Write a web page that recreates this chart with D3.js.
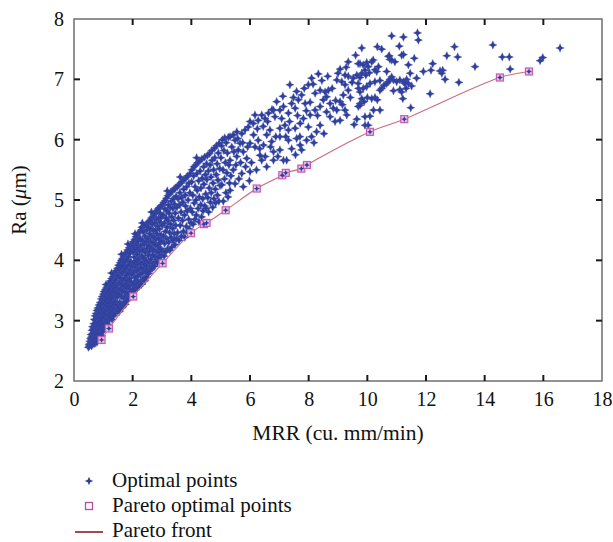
<!DOCTYPE html>
<html><head><meta charset="utf-8">
<script src="https://cdn.jsdelivr.net/npm/d3@7"></script>
<style>body{margin:0;background:#fff}svg{display:block}</style>
</head><body>
<svg id="c" width="613" height="542"></svg>
<script>
// ---------- data ----------
const xTicks = [0, 2, 4, 6, 8, 10, 12, 14, 16, 18];
const yTicks = [2, 3, 4, 5, 6, 7, 8];
const xTitle = "MRR (cu. mm/min)";
const legendLabels = ["Optimal points", "Pareto optimal points", "Pareto front"];

const paretoPoints = [
  [0.94,2.68],[1.19,2.87],[2.02,3.40],[3.02,3.95],[3.99,4.45],[4.43,4.60],[4.52,4.62],
  [5.17,4.83],[6.23,5.19],[7.10,5.41],[7.22,5.45],[7.75,5.52],[7.94,5.58],[10.09,6.13],
  [11.26,6.34],[14.52,7.03],[15.51,7.13]
];

const optimalPoints = [
  // x 0.5 - 1.0
  [0.49,2.56],[0.51,2.61],[0.52,2.58],[0.54,2.66],[0.55,2.60],[0.56,2.71],[0.57,2.63],[0.58,2.77],[0.59,2.69],[0.60,2.58],
  [0.61,2.84],[0.61,2.74],[0.62,2.65],[0.63,2.90],[0.64,2.79],[0.64,2.61],[0.65,2.70],[0.66,2.86],[0.67,2.95],[0.67,2.66],
  [0.68,2.78],[0.69,3.02],[0.70,2.88],[0.70,2.72],[0.71,2.62],[0.72,3.08],[0.72,2.95],[0.73,2.83],[0.74,2.69],[0.75,3.12],
  [0.75,3.00],[0.76,2.77],[0.77,2.90],[0.78,3.17],[0.78,2.64],[0.79,3.05],[0.80,2.84],[0.80,2.72],[0.81,3.21],[0.82,2.97],
  [0.83,3.11],[0.83,2.79],[0.84,2.68],[0.85,3.26],[0.85,2.91],[0.86,3.04],[0.87,3.18],[0.87,2.74],[0.88,2.86],[0.89,3.30],
  [0.89,2.99],[0.90,3.12],[0.91,2.80],[0.91,3.23],[0.92,2.93],[0.93,3.36],[0.93,3.05],[0.94,2.76],[0.95,3.17],[0.96,2.88],
  [0.96,3.40],[0.97,3.00],[0.98,3.28],[0.98,2.82],[0.99,3.11],[1.00,3.44],[1.00,2.95],
  // x 1.0 - 1.5
  [1.01,3.20],[1.02,2.86],[1.02,3.48],[1.03,3.06],[1.04,3.33],[1.05,2.90],[1.05,3.14],[1.06,3.51],[1.07,3.25],[1.08,2.97],
  [1.08,3.40],[1.09,3.10],[1.10,2.88],[1.10,3.54],[1.11,3.31],[1.12,3.18],[1.13,3.02],[1.13,3.45],[1.14,3.57],[1.15,2.94],
  [1.15,3.24],[1.16,3.37],[1.17,3.08],[1.18,3.60],[1.18,3.49],[1.19,3.15],[1.20,3.29],[1.21,3.01],[1.21,3.63],[1.22,3.41],
  [1.23,3.20],[1.24,3.53],[1.24,3.07],[1.25,3.66],[1.26,3.33],[1.27,3.12],[1.27,3.45],[1.28,3.70],[1.29,3.25],[1.30,3.02],
  [1.30,3.58],[1.31,3.38],[1.32,3.16],[1.33,3.73],[1.33,3.49],[1.34,3.28],[1.35,3.08],[1.36,3.62],[1.36,3.77],[1.37,3.40],
  [1.38,3.20],[1.39,3.54],[1.40,3.80],[1.40,3.12],[1.41,3.32],[1.42,3.67],[1.43,3.46],[1.44,3.17],[1.44,3.83],[1.45,3.58],
  [1.46,3.26],[1.47,3.72],[1.48,3.39],[1.48,3.87],[1.49,3.16],[1.50,3.52],[1.28,3.79],[1.09,3.60],
  // x 1.5 - 2.0
  [1.51,3.75],[1.52,3.22],[1.52,3.92],[1.53,3.44],[1.54,3.63],[1.55,3.15],[1.55,3.84],[1.56,3.30],[1.57,3.96],[1.58,3.53],
  [1.58,3.71],[1.59,3.20],[1.60,3.88],[1.61,3.40],[1.61,4.00],[1.62,3.60],[1.63,3.27],[1.64,3.79],[1.64,3.49],[1.65,4.03],
  [1.66,3.67],[1.67,3.23],[1.67,3.92],[1.68,3.38],[1.69,3.57],[1.70,4.06],[1.70,3.82],[1.71,3.30],[1.72,3.70],[1.73,3.47],
  [1.73,3.97],[1.74,4.10],[1.75,3.27],[1.76,3.61],[1.76,3.86],[1.77,3.40],[1.78,4.13],[1.79,3.75],[1.79,3.54],[1.80,3.33],
  [1.81,4.01],[1.82,3.66],[1.82,3.90],[1.83,4.17],[1.84,3.45],[1.85,3.79],[1.85,3.36],[1.86,4.06],[1.87,3.58],[1.88,4.21],
  [1.88,3.93],[1.89,3.41],[1.90,3.70],[1.91,4.12],[1.91,3.52],[1.92,3.84],[1.93,4.25],[1.94,3.40],[1.94,3.98],[1.95,3.64],
  [1.96,4.17],[1.97,3.77],[1.97,3.48],[1.98,4.28],[1.99,3.90],[2.00,3.58],[1.62,4.10],[1.84,4.27],
  // x 2.0 - 2.5
  [2.01,4.14],[2.02,3.52],[2.02,4.31],[2.03,3.80],[2.04,3.96],[2.05,3.62],[2.05,4.22],[2.06,4.05],[2.07,3.50],[2.07,4.35],
  [2.08,3.72],[2.09,3.88],[2.10,4.18],[2.10,3.58],[2.11,4.39],[2.12,3.99],[2.13,3.67],[2.13,4.27],[2.14,3.83],[2.15,4.10],
  [2.16,3.55],[2.16,4.42],[2.17,3.93],[2.18,3.74],[2.19,4.21],[2.19,4.32],[2.20,3.62],[2.21,4.02],[2.22,3.85],[2.22,4.46],
  [2.23,3.57],[2.24,4.15],[2.25,3.77],[2.25,4.36],[2.26,3.95],[2.27,3.66],[2.28,4.25],[2.28,4.50],[2.29,3.88],[2.30,3.60],
  [2.31,4.07],[2.31,4.55],[2.32,3.79],[2.33,4.33],[2.34,3.97],[2.35,3.67],[2.35,4.18],[2.36,4.47],[2.37,3.86],[2.38,4.04],
  [2.39,3.71],[2.39,4.57],[2.40,4.27],[2.41,3.93],[2.42,3.66],[2.42,4.40],[2.43,4.13],[2.44,3.81],[2.45,4.59],[2.46,3.99],
  [2.46,4.30],[2.47,3.72],[2.48,4.50],[2.49,4.20],[2.49,3.90],[2.50,4.62],[2.08,4.44],[2.33,4.62],
  // x 2.5 - 3.0
  [2.51,3.84],[2.52,4.36],[2.53,4.08],[2.53,4.55],[2.54,3.78],[2.55,4.24],[2.56,4.64],[2.57,3.96],[2.58,4.44],[2.58,4.15],
  [2.59,3.83],[2.60,4.66],[2.61,4.31],[2.62,4.02],[2.62,4.52],[2.63,3.89],[2.64,4.70],[2.65,4.20],[2.66,4.40],[2.66,3.86],
  [2.67,4.60],[2.68,4.09],[2.69,4.73],[2.70,4.29],[2.70,3.95],[2.71,4.49],[2.72,4.17],[2.73,4.76],[2.74,3.90],[2.74,4.38],
  [2.75,4.62],[2.76,4.06],[2.77,4.26],[2.78,4.79],[2.78,4.50],[2.79,3.98],[2.80,4.35],[2.81,4.68],[2.82,4.14],[2.82,4.82],
  [2.83,4.44],[2.84,3.96],[2.85,4.57],[2.86,4.23],[2.86,4.85],[2.87,4.05],[2.88,4.70],[2.89,4.36],[2.90,4.13],[2.90,4.87],
  [2.91,4.52],[2.92,4.01],[2.93,4.29],[2.94,4.78],[2.94,4.63],[2.95,4.19],[2.96,4.90],[2.97,4.42],[2.98,4.08],[2.98,4.71],
  [2.99,4.32],[2.64,4.80],
  // x 3.0 - 3.5
  [3.01,4.58],[3.02,4.92],[3.03,4.16],[3.04,4.75],[3.05,4.40],[3.06,4.96],[3.07,4.07],[3.08,4.62],[3.09,4.28],[3.10,4.85],
  [3.11,4.99],[3.12,4.48],[3.13,4.14],[3.14,4.70],[3.15,5.03],[3.16,4.36],[3.17,4.82],[3.18,4.55],[3.19,4.19],[3.20,5.07],
  [3.21,4.66],[3.22,4.92],[3.23,4.30],[3.24,4.78],[3.25,5.10],[3.26,4.46],[3.27,4.17],[3.28,4.88],[3.29,4.60],[3.30,5.13],
  [3.31,4.38],[3.32,4.98],[3.33,4.72],[3.34,4.22],[3.35,5.15],[3.36,4.53],[3.37,4.86],[3.38,4.33],[3.39,5.02],[3.40,4.66],
  [3.41,5.18],[3.42,4.44],[3.43,4.93],[3.44,4.26],[3.45,4.78],[3.46,5.20],[3.47,4.58],[3.48,5.06],[3.49,4.36],[3.18,5.15],
  // x 3.5 - 4.0
  [3.51,4.88],[3.52,5.22],[3.53,4.46],[3.55,5.02],[3.56,4.70],[3.57,5.25],[3.58,4.33],[3.60,4.92],[3.61,5.12],[3.62,4.58],
  [3.64,5.28],[3.65,4.80],[3.66,4.40],[3.67,5.04],[3.69,5.31],[3.70,4.66],[3.71,4.96],[3.73,4.48],[3.74,5.18],[3.75,5.34],
  [3.77,4.75],[3.78,4.38],[3.79,5.08],[3.80,4.90],[3.82,5.37],[3.83,4.56],[3.84,5.22],[3.86,4.82],[3.87,4.46],[3.88,5.40],
  [3.89,5.00],[3.91,4.68],[3.92,5.28],[3.93,4.52],[3.95,5.12],[3.96,5.44],[3.97,4.86],[3.99,4.62],[3.62,5.38],
  // x 4.0 - 4.5
  [4.01,5.30],[4.02,5.50],[4.03,4.80],[4.05,5.08],[4.06,4.60],[4.08,5.40],[4.09,5.55],[4.10,4.95],[4.12,4.68],[4.13,5.22],
  [4.15,5.58],[4.16,5.00],[4.17,4.75],[4.19,5.44],[4.20,5.16],[4.22,5.62],[4.23,4.86],[4.25,5.32],[4.26,4.64],[4.27,5.05],
  [4.29,5.65],[4.30,5.48],[4.32,4.92],[4.33,5.20],[4.35,4.72],[4.36,5.68],[4.37,5.36],[4.39,5.02],[4.40,4.82],[4.42,5.55],
  [4.43,5.26],[4.45,5.71],[4.46,4.90],[4.48,5.42],[4.49,5.10],[4.18,5.70],
  // x 4.5 - 5.0
  [4.51,4.86],[4.52,5.60],[4.53,5.34],[4.55,5.74],[4.56,5.04],[4.58,5.48],[4.59,4.80],[4.61,5.20],[4.62,5.77],[4.64,5.58],
  [4.65,4.96],[4.67,5.38],[4.68,5.12],[4.70,5.82],[4.71,5.66],[4.73,4.88],[4.74,5.28],[4.76,5.50],[4.77,5.02],[4.79,5.86],
  [4.80,5.70],[4.82,5.18],[4.83,4.95],[4.85,5.42],[4.86,5.90],[4.88,5.60],[4.89,5.08],[4.91,5.33],[4.92,5.78],[4.94,4.98],
  [4.95,5.94],[4.97,5.52],[4.98,5.24],
  // x 5.0 - 5.3
  [5.01,5.70],[5.03,5.90],[5.04,5.25],[5.06,6.00],[5.08,5.50],[5.09,4.98],[5.11,5.82],[5.13,5.35],[5.14,6.03],[5.16,5.62],
  [5.18,5.12],[5.19,5.95],[5.21,5.45],[5.23,5.78],[5.25,5.05],[5.26,6.04],[5.28,5.58],[5.30,5.28],
  // x 5.3 - 9.75
  [9.35,7.29],[9.69,7.26],[9.64,7.07],[9.52,7.02],[9.35,7.05],[9.24,7.07],[9.07,7.17],[8.96,6.99],[9.13,6.96],[9.24,6.91],
  [9.35,6.82],[9.69,6.93],[9.69,6.55],[9.64,6.34],[9.75,6.60],[8.33,7.09],[8.10,7.02],[7.99,6.91],[8.22,6.77],[8.39,6.82],
  [8.56,6.79],[8.61,6.71],[8.67,6.82],[8.50,6.66],[8.73,6.60],[8.84,6.52],[8.96,6.49],[9.07,6.63],[9.18,6.74],[9.24,6.49],
  [9.30,6.41],[9.07,6.32],[8.90,6.30],[8.73,6.38],[8.61,6.46],[8.39,6.55],[8.22,6.49],[8.05,6.41],[7.88,6.60],[7.76,6.74],
  [7.59,6.80],[7.65,6.66],[7.54,6.52],[7.36,6.91],[7.42,6.60],[7.31,6.44],[7.14,6.55],[7.02,6.49],[6.85,6.38],[6.80,6.49],
  [6.91,6.63],[6.63,6.44],[6.51,6.35],[6.40,6.41],[6.28,6.32],[6.17,6.41],[6.11,6.27],[6.00,6.30],[5.94,6.21],[5.83,6.16],
  [5.72,6.10],[5.55,6.13],[5.43,6.08],[5.32,6.05],[5.49,5.99],[5.66,5.94],[5.38,5.88],[5.60,5.83],[5.77,5.80],[6.00,5.94],
  [6.28,5.99],[6.57,6.08],[6.68,6.16],[7.02,6.19],[7.19,6.24],[7.31,6.16],[7.54,6.19],[7.71,6.27],[7.82,6.35],[7.99,6.21],
  [8.27,6.13],[8.10,6.05],[8.39,6.24],[7.59,6.02],[7.31,5.99],[7.02,6.05],[6.74,5.97],[6.46,5.91],[6.17,5.88],[6.34,5.74],
  [6.80,5.80],[7.02,5.83],[7.42,5.85],[7.71,5.91],[7.76,5.83],[7.93,5.99],[7.14,5.66],[7.25,5.66],[6.80,5.66],[6.57,5.55],
  [6.40,5.66],[5.89,5.69],[5.55,5.72],[5.32,5.66],[5.43,5.50],[5.72,5.44],[6.00,5.47],[5.49,5.27],[5.77,5.22],[5.32,5.16],
  [5.35,5.40],[5.45,5.80],[5.52,5.58],[5.58,6.02],[5.62,5.35],[5.68,5.62],[5.75,5.95],[5.85,5.55],[5.92,5.88],[5.98,5.32],
  [6.05,5.62],[6.12,6.08],[6.22,5.50],[6.25,6.18],[6.33,5.85],[6.45,6.22],[6.52,5.72],[6.60,6.30],[6.70,5.88],[6.75,6.50],
  [6.88,6.05],[6.95,5.72],[7.08,6.35],[7.12,6.72],[7.22,6.05],[7.35,6.30],[7.48,6.70],[7.55,5.75],[7.62,6.40],[7.70,6.05],
  [7.85,6.85],[7.92,6.48],[8.05,6.62],[8.15,6.92],[8.18,5.95],[8.30,6.40],[8.45,6.98],[8.52,6.10],[8.65,7.05],[8.80,6.85],
  [8.92,6.65],[9.00,7.10],[9.15,6.58],[9.28,7.20],[9.42,6.70],[9.48,6.95],[9.55,6.25],[9.60,7.40],[9.70,6.85],
  // x >= 9.75
  [9.75,7.26],[9.86,7.24],[9.98,7.28],[10.03,7.21],[10.15,7.29],[10.20,7.32],[9.92,7.15],[9.81,7.10],[9.75,7.03],[9.95,7.07],
  [10.07,7.11],[10.26,7.16],[10.38,7.21],[10.32,7.13],[10.43,6.98],[10.26,6.96],[10.09,6.93],[9.98,6.88],[9.86,6.85],[9.75,6.79],
  [9.81,6.68],[9.89,6.63],[9.75,6.57],[10.00,6.70],[10.26,6.70],[10.34,6.66],[10.66,7.13],[10.72,7.38],[10.77,7.33],[10.83,7.32],
  [10.94,7.29],[10.75,7.39],[11.17,7.40],[11.23,7.41],[11.40,7.24],[11.46,7.10],[11.60,7.35],[11.68,7.02],[11.34,7.00],[11.23,6.96],
  [11.11,6.99],[11.00,6.96],[10.89,6.99],[10.83,7.04],[10.77,7.00],[10.72,6.96],[10.89,6.81],[11.11,6.83],[11.17,6.79],[11.21,6.68],
  [11.32,6.85],[11.51,6.89],[11.28,6.93],[11.40,6.93],[10.66,6.93],[10.57,6.90],[10.49,6.85],[10.43,6.82],[10.43,6.49],[10.09,6.39],
  [9.92,6.38],[9.92,6.24],[10.03,6.24],[10.34,7.54],[10.49,7.50],[9.81,7.52],[10.83,7.72],[11.23,7.70],[11.71,7.77],[11.74,7.65],
  [11.09,7.55],[12.97,7.54],[12.71,7.39],[13.08,7.37],[14.28,7.57],[14.60,7.37],[14.84,7.37],[14.87,7.17],[15.89,7.31],[15.98,7.36],
  [16.57,7.52],[13.67,7.21],[12.23,7.26],[11.91,7.13],[12.17,7.15],[12.48,7.14],[12.57,7.15],[12.54,7.10],[12.65,7.00],[13.12,6.95],
  [12.14,6.76],[11.48,6.53],[10.21,6.49],[10.15,6.68]
];

// ---------- drawing ----------
const svg = d3.select("#c");
const m = {l: 74, r: 602, t: 19, b: 381};
const x = d3.scaleLinear().domain([0, 18]).range([m.l, m.r]);
const y = d3.scaleLinear().domain([2, 8]).range([m.b, m.t]);
const FONT = "'Liberation Serif', 'Times New Roman', serif";
const BLUE = "#2f3f9c";

const starPath = "M0,-4.2L1.3,-1.3L4.2,0L1.3,1.3L0,4.2L-1.3,1.3L-4.2,0L-1.3,-1.3Z";

// points
svg.append("g").selectAll("path").data(optimalPoints).join("path")
  .attr("d", starPath)
  .attr("transform", d => `translate(${x(d[0])},${y(d[1])})`)
  .attr("fill", BLUE)
  .attr("stroke", "rgba(70,85,175,0.35)").attr("stroke-width", 0.9);

// pareto front line
const line = d3.line().x(d => x(d[0])).y(d => y(d[1])).curve(d3.curveCatmullRom.alpha(0.5));
svg.append("path").datum(paretoPoints).attr("d", line)
  .attr("fill", "none").attr("stroke", "#cc6a80").attr("stroke-width", 1.1);

// pareto squares
const pg = svg.append("g");
pg.selectAll("rect").data(paretoPoints).join("rect")
  .attr("x", d => x(d[0]) - 3.5).attr("y", d => y(d[1]) - 3.5)
  .attr("width", 7).attr("height", 7)
  .attr("fill", "#e9bde0").attr("stroke", "#c45cb4").attr("stroke-width", 1.2);
pg.selectAll("path").data(paretoPoints).join("path")
  .attr("d", "M0,-3L0.9,-0.9L3,0L0.9,0.9L0,3L-0.9,0.9L-3,0L-0.9,-0.9Z")
  .attr("transform", d => `translate(${x(d[0])},${y(d[1])})`)
  .attr("fill", BLUE);

// frame
svg.append("rect").attr("x", m.l).attr("y", m.t)
  .attr("width", m.r - m.l).attr("height", m.b - m.t)
  .attr("fill", "none").attr("stroke", "#6e6e6e").attr("stroke-width", 1.5);

// tick labels via axes
const gx = svg.append("g").attr("transform", `translate(0,${m.b})`)
  .call(d3.axisBottom(x).tickValues(xTicks).tickSize(0).tickPadding(10.5).tickFormat(d3.format("d")));
const gy = svg.append("g").attr("transform", `translate(${m.l},0)`)
  .call(d3.axisLeft(y).tickValues(yTicks).tickSize(0).tickPadding(10).tickFormat(d3.format("d")));
[gx, gy].forEach(g => {
  g.select(".domain").remove();
  g.selectAll("text").attr("font-family", FONT).attr("font-size", 20).attr("fill", "#111");
});

// inward ticks on all four sides
const TL = 6;
const tk = svg.append("g").attr("stroke", "#1a1a1a").attr("stroke-width", 2);
xTicks.filter(v => v > 0 && v < 18).forEach(v => {
  tk.append("line").attr("x1", x(v)).attr("x2", x(v)).attr("y1", m.b).attr("y2", m.b - TL);
  tk.append("line").attr("x1", x(v)).attr("x2", x(v)).attr("y1", m.t).attr("y2", m.t + TL);
});
yTicks.filter(v => v > 2 && v < 8).forEach(v => {
  tk.append("line").attr("y1", y(v)).attr("y2", y(v)).attr("x1", m.l).attr("x2", m.l + TL);
  tk.append("line").attr("y1", y(v)).attr("y2", y(v)).attr("x1", m.r).attr("x2", m.r - TL);
});

// axis titles
svg.append("text").attr("x", (m.l + m.r) / 2).attr("y", 440)
  .attr("text-anchor", "middle").attr("font-family", FONT).attr("font-size", 21.5).attr("fill", "#111")
  .text(xTitle);
const yt = svg.append("text").attr("transform", `translate(26,${(m.t + m.b) / 2}) rotate(-90)`)
  .attr("text-anchor", "middle").attr("font-family", FONT).attr("font-size", 21).attr("fill", "#111");
yt.append("tspan").text("Ra (");
yt.append("tspan").attr("font-style", "italic").text("\u03bc");
yt.append("tspan").text("m)");

// legend
const lg = svg.append("g").attr("font-family", FONT).attr("font-size", 21).attr("fill", "#111");
const markY = [481, 506, 532];
const textY = [486.5, 511.5, 536.5];
lg.append("path").attr("d", starPath).attr("transform", `translate(89,${markY[0]})`).attr("fill", BLUE);
lg.append("rect").attr("x", 85.5).attr("y", markY[1] - 3.5).attr("width", 7).attr("height", 7)
  .attr("fill", "#fff").attr("stroke", "#b04fa4").attr("stroke-width", 1.3);
lg.append("line").attr("x1", 75).attr("x2", 103).attr("y1", markY[2]).attr("y2", markY[2])
  .attr("stroke", "#a4494f").attr("stroke-width", 2);
legendLabels.forEach((t, i) => {
  lg.append("text").attr("x", 112).attr("y", textY[i]).text(t);
});
</script>
</body></html>
